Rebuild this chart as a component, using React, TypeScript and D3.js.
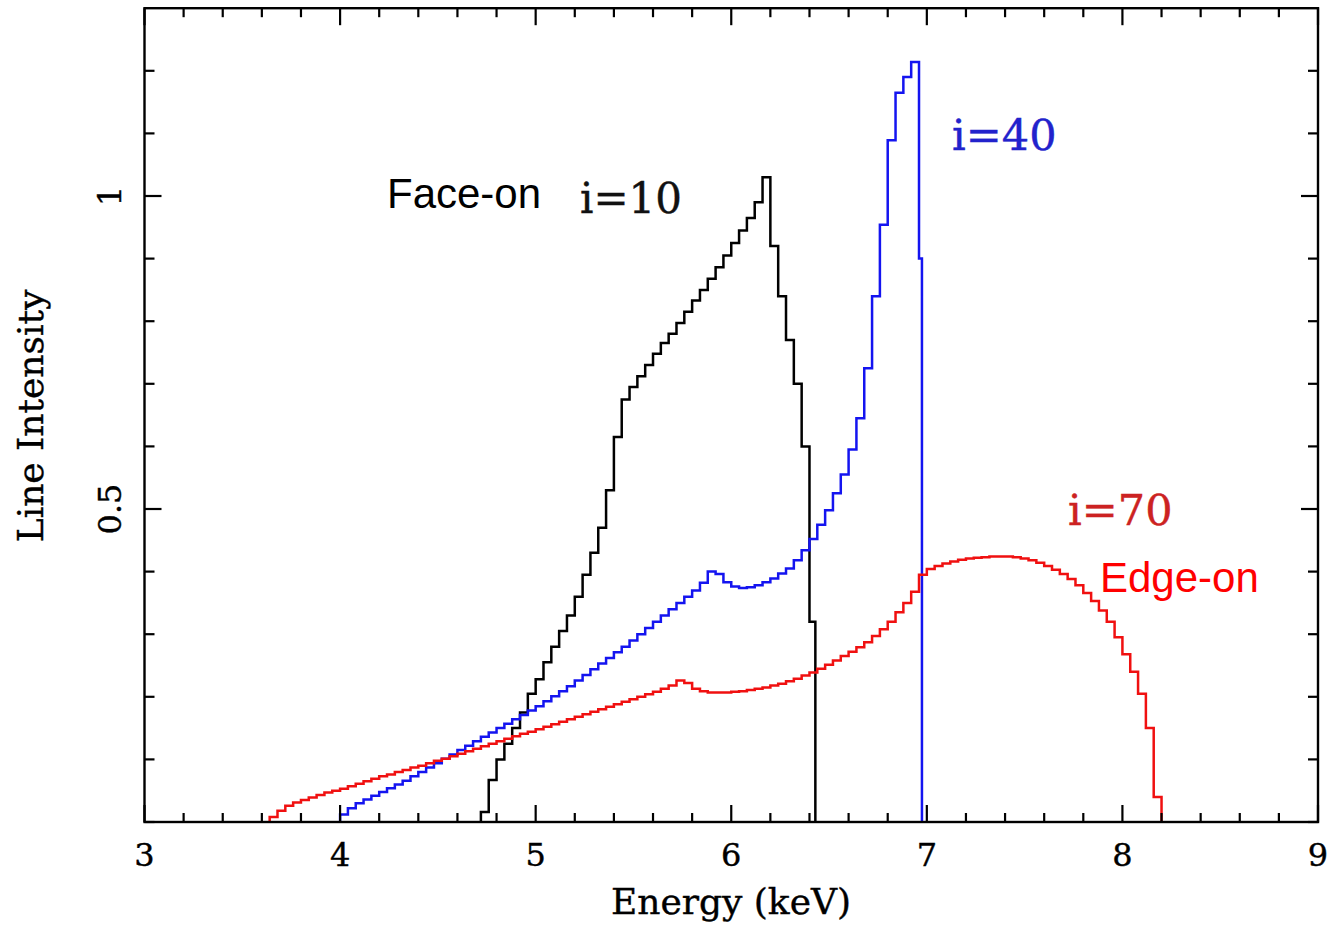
import React from "react";
import * as d3 from "d3";

// ---- data ----
const binWidth = 0.04;

const faceOnStart = 4.72;
const faceOnEnd = 6.43;
const faceOnValues = [
  0.016, 0.067, 0.10, 0.125, 0.15, 0.175, 0.205, 0.228, 0.255, 0.28,
  0.305, 0.33, 0.36, 0.395, 0.43, 0.47, 0.53, 0.615, 0.675, 0.695,
  0.712, 0.73, 0.748, 0.765, 0.78, 0.797, 0.815, 0.833, 0.85, 0.868,
  0.886, 0.905, 0.925, 0.945, 0.965, 0.99, 1.03, 0.92, 0.84, 0.77,
  0.70, 0.60, 0.32,
];

const midStart = 4.0;
const midEnd = 6.975;
const midValues = [
  0.012, 0.022, 0.030, 0.036, 0.042, 0.048, 0.054, 0.060, 0.066, 0.073,
  0.080, 0.087, 0.094, 0.101, 0.108, 0.115, 0.122, 0.129, 0.136, 0.143,
  0.150, 0.157, 0.164, 0.171, 0.178, 0.185, 0.193, 0.201, 0.209, 0.217,
  0.226, 0.235, 0.244, 0.253, 0.262, 0.271, 0.280, 0.290, 0.300, 0.310,
  0.320, 0.330, 0.340, 0.350, 0.360, 0.370, 0.382, 0.400, 0.396, 0.383,
  0.376, 0.374, 0.375, 0.378, 0.383, 0.389, 0.397, 0.405, 0.418, 0.434,
  0.452, 0.475, 0.498, 0.525, 0.555, 0.595, 0.645, 0.725, 0.840, 0.954,
  1.089, 1.165, 1.190, 1.214, 0.90,
];

const edgeOnStart = 3.64;
const edgeOnEnd = 8.2;
const edgeOnValues = [
  0.008, 0.018, 0.026, 0.031, 0.035, 0.039, 0.043, 0.047, 0.050, 0.053,
  0.057, 0.061, 0.065, 0.069, 0.073, 0.076, 0.080, 0.083, 0.087, 0.090,
  0.094, 0.098, 0.101, 0.105, 0.109, 0.113, 0.117, 0.121, 0.125, 0.129,
  0.133, 0.137, 0.141, 0.144, 0.148, 0.152, 0.156, 0.160, 0.164, 0.168,
  0.172, 0.176, 0.180, 0.184, 0.188, 0.192, 0.196, 0.200, 0.204, 0.208,
  0.213, 0.218, 0.226, 0.222, 0.213, 0.209, 0.207, 0.207, 0.207, 0.208,
  0.209, 0.211, 0.213, 0.215, 0.218, 0.221, 0.225, 0.229, 0.234, 0.239,
  0.245, 0.251, 0.258, 0.265, 0.272, 0.279, 0.287, 0.297, 0.308, 0.320,
  0.335, 0.350, 0.368, 0.395, 0.404, 0.409, 0.413, 0.416, 0.419, 0.421,
  0.422, 0.423, 0.424, 0.424, 0.424, 0.423, 0.421, 0.418, 0.414, 0.409,
  0.403, 0.396, 0.388, 0.378, 0.366, 0.353, 0.338, 0.320, 0.295, 0.268,
  0.240, 0.205, 0.150, 0.040,
];

const xTickLabels = ["3", "4", "5", "6", "7", "8", "9"];
const yTickLabels = ["0.5", "1"];

const W = 1333;
const H = 925;

function toPoints(start: number, values: number[], end: number): [number, number][] {
  const pts: [number, number][] = [[start, 0]];
  values.forEach((v, i) => pts.push([start + i * binWidth, v]));
  pts.push([end, 0]);
  return pts;
}

export default function App() {
  const x = d3.scaleLinear().domain([3, 9]).range([144.5, 1318]);
  const y = d3.scaleLinear().domain([0, 1.3]).range([822, 8.2]);
  const line = d3
    .line<[number, number]>()
    .x((d) => x(d[0]))
    .y((d) => y(d[1]))
    .curve(d3.curveStepAfter);

  const series = [
    { pts: toPoints(faceOnStart, faceOnValues, faceOnEnd), color: "#000000" },
    { pts: toPoints(midStart, midValues, midEnd), color: "#1414f0" },
    { pts: toPoints(edgeOnStart, edgeOnValues, edgeOnEnd), color: "#f01010" },
  ];

  const xMinor = d3.range(3, 9.001, 0.2);
  const yMinor = d3.range(0, 1.3, 0.1);
  const x0 = x(3), x1 = x(9), yb = y(0), yt = y(1.3);
  const isMajorX = (v: number) => Math.abs(v - Math.round(v)) < 1e-6;
  const isMajorY = (v: number) => Math.abs(v * 2 - Math.round(v * 2)) < 1e-6;
  const serif = "'DejaVu Serif', serif";
  const sans = "'Liberation Sans', Arial, sans-serif";
  const heavy = (c: string) => ({ stroke: c, strokeWidth: 0.4 });

  return (
    <svg width={W} height={H} style={{ position: "absolute", left: 0, top: 0, background: "#fff" }}>
      <rect x={0} y={0} width={W} height={H} fill="#fff" />
      {series.map((s, i) => (
        <path key={i} d={line(s.pts) || ""} fill="none" stroke={s.color} strokeWidth={2.5} strokeLinejoin="miter" />
      ))}
      {/* frame */}
      <rect x={x0} y={yt} width={x1 - x0} height={yb - yt} fill="none" stroke="#000" strokeWidth={2.4} />
      {/* ticks */}
      {xMinor.map((v, i) => {
        const len = isMajorX(v) ? 17 : 9;
        return (
          <g key={"xt" + i}>
            <line x1={x(v)} x2={x(v)} y1={yb} y2={yb - len} stroke="#000" strokeWidth={2.2} />
            <line x1={x(v)} x2={x(v)} y1={yt} y2={yt + len} stroke="#000" strokeWidth={2.2} />
          </g>
        );
      })}
      {yMinor.map((v, i) => {
        const len = isMajorY(v) && v > 0 ? 17 : 10;
        return (
          <g key={"yt" + i}>
            <line x1={x0} x2={x0 + len} y1={y(v)} y2={y(v)} stroke="#000" strokeWidth={2.2} />
            <line x1={x1} x2={x1 - len} y1={y(v)} y2={y(v)} stroke="#000" strokeWidth={2.2} />
          </g>
        );
      })}
      {/* tick labels */}
      {xTickLabels.map((t) => (
        <text key={"xl" + t} x={x(+t)} y={866} textAnchor="middle" fontFamily={serif} fontSize={32} fill="#000" {...heavy("#000")}>
          {t}
        </text>
      ))}
      {yTickLabels.map((t) => (
        <text
          key={"yl" + t}
          transform={`translate(121,${y(+t)}) rotate(-90)`}
          textAnchor="middle"
          fontFamily={serif}
          fontSize={32}
          fill="#000"
          {...heavy("#000")}
        >
          {t}
        </text>
      ))}
      {/* axis titles */}
      <text x={731} y={914} textAnchor="middle" fontFamily={serif} fontSize={36} fill="#000" {...heavy("#000")}>
        Energy (keV)
      </text>
      <text transform="translate(43,416) rotate(-90)" textAnchor="middle" fontFamily={serif} fontSize={36} fill="#000" {...heavy("#000")}>
        Line Intensity
      </text>
      {/* annotations */}
      <text x={387} y={208} fontFamily={sans} fontSize={42} fill="#000">Face-on</text>
      <text x={580} y={213} fontFamily={serif} fontSize={42} fill="#111" {...heavy("#111")}>i=10</text>
      <text x={952} y={150} fontFamily={serif} fontSize={43} fill="#2222cc" {...heavy("#2222cc")}>i=40</text>
      <text x={1068} y={525} fontFamily={serif} fontSize={43} fill="#cc2222" {...heavy("#cc2222")}>i=70</text>
      <text x={1100} y={592} fontFamily={sans} fontSize={42} fill="#ff0000">Edge-on</text>
    </svg>
  );
}
